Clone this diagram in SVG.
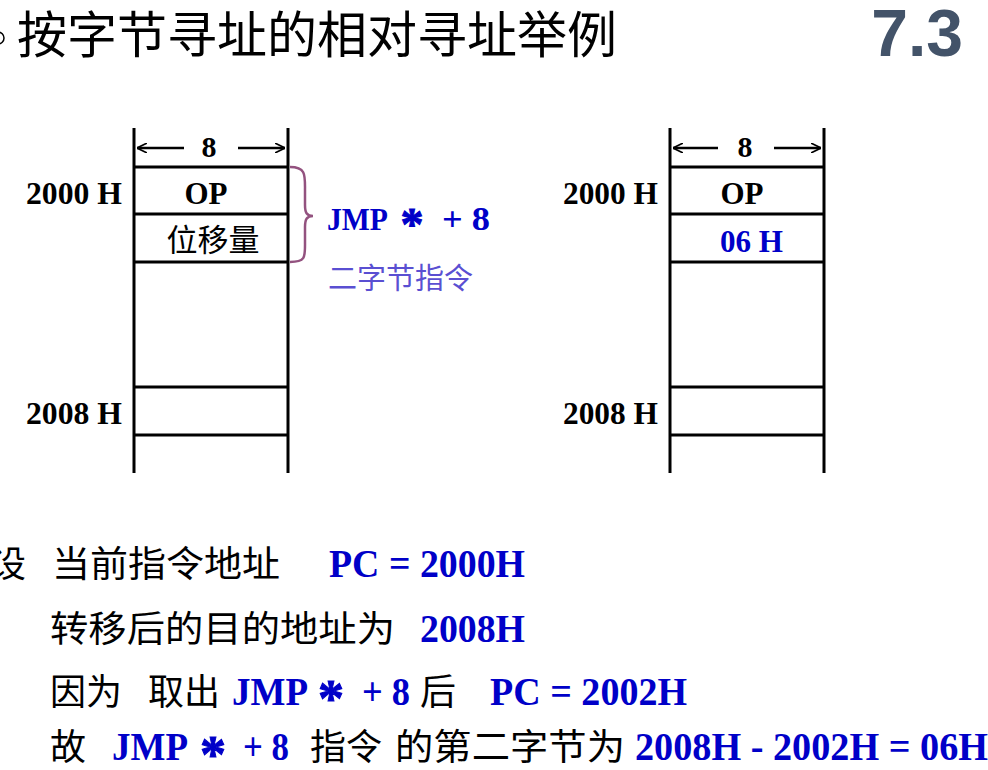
<svg xmlns="http://www.w3.org/2000/svg" width="988" height="770" viewBox="0 0 988 770">
<style>
.ln{stroke:#000;stroke-width:3;fill:none}
.tb{font-family:"Liberation Serif",serif;font-weight:bold;fill:#000}
.bl{font-family:"Liberation Serif",serif;font-weight:bold;fill:#0000C8}
.st{font-family:"Liberation Serif",serif;font-weight:bold;fill:#0000C8;stroke:#0000C8;stroke-width:1;text-anchor:middle}
.cn{font-family:"Noto Sans CJK SC","Noto Sans CJK TC",sans-serif;fill:#000}
.cv{font-family:"Noto Sans CJK SC","Noto Sans CJK TC",sans-serif;fill:#5A4FD2}
</style>
<defs>
<marker id="ah" viewBox="0 0 10 10" refX="10" refY="5" markerWidth="10" markerHeight="10" markerUnits="userSpaceOnUse" orient="auto-start-reverse">
<path d="M0,0 L10,5 L0,10" fill="none" stroke="#000" stroke-width="1.6"/>
</marker>
</defs>
<rect width="988" height="770" fill="#fff"/>
<g id="title">
<circle cx="-2" cy="38" r="6" fill="none" stroke="#000" stroke-width="1.5"/>
<text x="17" y="53" class="cn" font-size="50">按字节寻址的相对寻址举例</text>
<text x="963" y="56" font-family="Liberation Sans,Arial,sans-serif" font-weight="bold" font-size="66" fill="#435369" text-anchor="end">7.3</text>
</g>
<g id="left-memory">
<line class="ln" x1="134" y1="128" x2="134" y2="473"/>
<line class="ln" x1="288" y1="128" x2="288" y2="473"/>
<line class="ln" x1="134" y1="167" x2="288" y2="167"/>
<line class="ln" x1="134" y1="214" x2="288" y2="214"/>
<line class="ln" x1="134" y1="262" x2="288" y2="262"/>
<line class="ln" x1="134" y1="387" x2="288" y2="387"/>
<line class="ln" x1="134" y1="435" x2="288" y2="435"/>
<line x1="184" y1="148" x2="137" y2="148" stroke="#000" stroke-width="2.5" marker-end="url(#ah)"/>
<line x1="238" y1="148" x2="285" y2="148" stroke="#000" stroke-width="2.5" marker-end="url(#ah)"/>
<text x="209" y="157" class="tb" font-size="30" text-anchor="middle">8</text>
<text x="26" y="204" class="tb" font-size="31" textLength="96" lengthAdjust="spacingAndGlyphs">2000 H</text>
<text x="26" y="424" class="tb" font-size="31" textLength="96" lengthAdjust="spacingAndGlyphs">2008 H</text>
<text x="206" y="204" class="tb" font-size="31" text-anchor="middle">OP</text>
<text x="213" y="251" class="cn" font-size="31" text-anchor="middle">位移量</text>
</g>
<g id="brace">
<path d="M290,167 C306,167 305,175 305,190 L305,205 C305,213 307,216 313,216 C307,216 305,219 305,227 L305,242 C305,257 306,262 290,262" fill="none" stroke="#93527F" stroke-width="2.5"/>
<text x="327" y="230" class="bl" font-size="32" textLength="61" lengthAdjust="spacingAndGlyphs">JMP</text>
<text x="412" y="240" class="st" font-size="46">*</text>
<text x="442" y="230" class="bl" font-size="33" textLength="48" lengthAdjust="spacingAndGlyphs">+ 8</text>
<text x="328" y="289" class="cv" font-size="29">二字节指令</text>
</g>
<g id="right-memory">
<line class="ln" x1="670" y1="128" x2="670" y2="473"/>
<line class="ln" x1="824" y1="128" x2="824" y2="473"/>
<line class="ln" x1="670" y1="167" x2="824" y2="167"/>
<line class="ln" x1="670" y1="214" x2="824" y2="214"/>
<line class="ln" x1="670" y1="262" x2="824" y2="262"/>
<line class="ln" x1="670" y1="387" x2="824" y2="387"/>
<line class="ln" x1="670" y1="435" x2="824" y2="435"/>
<line x1="718" y1="148" x2="673" y2="148" stroke="#000" stroke-width="2.5" marker-end="url(#ah)"/>
<line x1="774" y1="148" x2="821" y2="148" stroke="#000" stroke-width="2.5" marker-end="url(#ah)"/>
<text x="745" y="157" class="tb" font-size="30" text-anchor="middle">8</text>
<text x="563" y="204" class="tb" font-size="31" textLength="95" lengthAdjust="spacingAndGlyphs">2000 H</text>
<text x="563" y="424" class="tb" font-size="31" textLength="95" lengthAdjust="spacingAndGlyphs">2008 H</text>
<text x="742" y="204" class="tb" font-size="31" text-anchor="middle">OP</text>
<text x="720" y="252" class="bl" font-size="31" textLength="63" lengthAdjust="spacingAndGlyphs">06 H</text>
</g>
<g id="explanation">
<text x="-10" y="577" class="cn" font-size="36">设</text>
<text x="52" y="577" class="cn" font-size="36" textLength="228" lengthAdjust="spacingAndGlyphs">当前指令地址</text>
<text x="329" y="577" class="bl" font-size="40" textLength="196" lengthAdjust="spacingAndGlyphs">PC = 2000H</text>
<text x="50" y="642" class="cn" font-size="36" textLength="345" lengthAdjust="spacingAndGlyphs">转移后的目的地址为</text>
<text x="420" y="642" class="bl" font-size="40" textLength="105" lengthAdjust="spacingAndGlyphs">2008H</text>
<text x="50" y="705" class="cn" font-size="36" textLength="72" lengthAdjust="spacingAndGlyphs">因为</text>
<text x="148" y="705" class="cn" font-size="36" textLength="72" lengthAdjust="spacingAndGlyphs">取出</text>
<text x="232" y="705" class="bl" font-size="39" textLength="76" lengthAdjust="spacingAndGlyphs">JMP</text>
<text x="331" y="716" class="st" font-size="52">*</text>
<text x="362" y="705" class="bl" font-size="39" textLength="48" lengthAdjust="spacingAndGlyphs">+ 8</text>
<text x="420" y="705" class="cn" font-size="36">后</text>
<text x="490" y="705" class="bl" font-size="40" textLength="197" lengthAdjust="spacingAndGlyphs">PC = 2002H</text>
<text x="50" y="760" class="cn" font-size="36">故</text>
<text x="112" y="760" class="bl" font-size="39" textLength="76" lengthAdjust="spacingAndGlyphs">JMP</text>
<text x="213" y="772" class="st" font-size="52">*</text>
<text x="243" y="760" class="bl" font-size="39" textLength="46" lengthAdjust="spacingAndGlyphs">+ 8</text>
<text x="310" y="760" class="cn" font-size="36" textLength="72" lengthAdjust="spacingAndGlyphs">指令</text>
<text x="395" y="760" class="cn" font-size="36" textLength="230" lengthAdjust="spacingAndGlyphs">的第二字节为</text>
<text x="635" y="760" class="bl" font-size="40" textLength="353" lengthAdjust="spacingAndGlyphs">2008H - 2002H = 06H</text>
</g>
</svg>
